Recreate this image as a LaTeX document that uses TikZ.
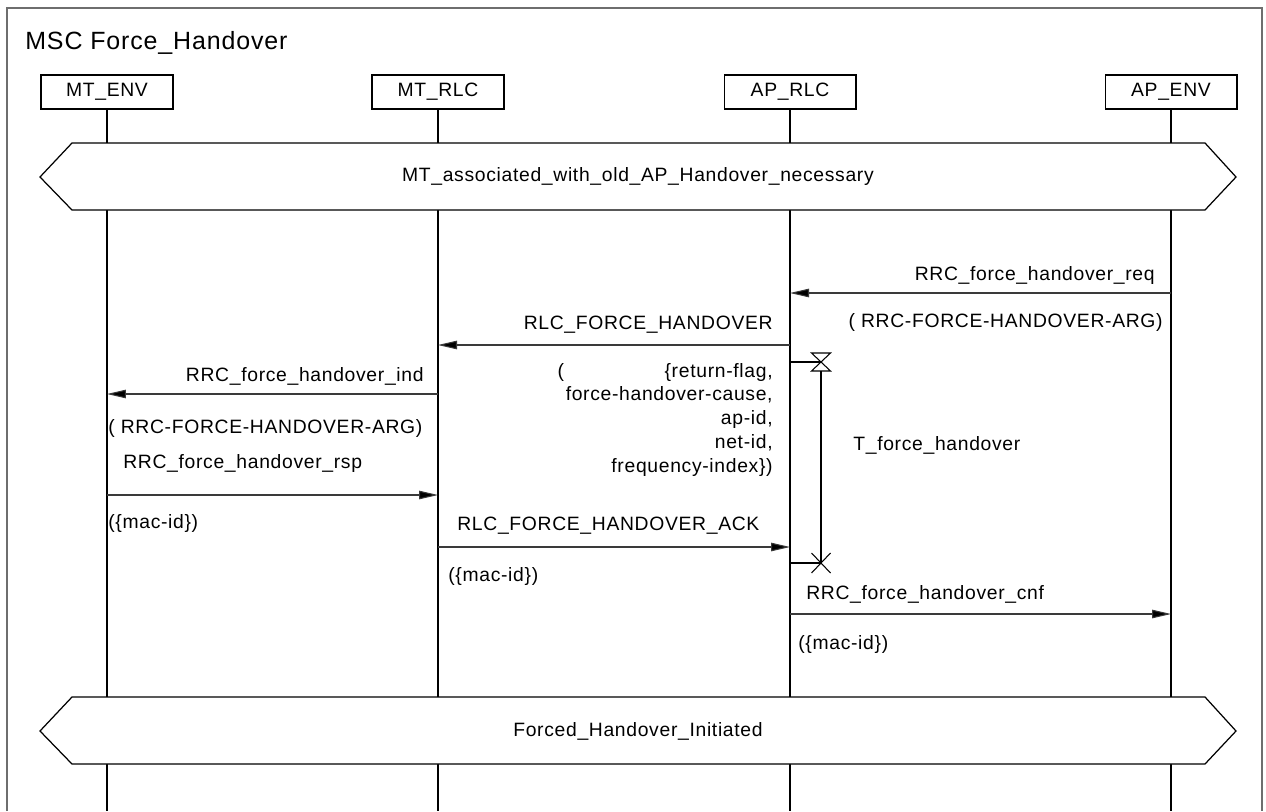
\documentclass[tikz,border=0pt]{standalone}
\usepackage{fontspec}
\setmainfont[LetterSpace=3.5]{Liberation Sans}
\usetikzlibrary{arrows.meta}
\usepackage{xcolor}
\definecolor{cInk}{HTML}{000000}
\definecolor{cMsg}{HTML}{3A3A3A}
\definecolor{cFrame}{HTML}{6E6E6E}
\tikzset{
  instbox/.style={
    draw=cInk, line width=0.6pt, inner sep=0pt,
    minimum width=2.64cm, minimum height=0.68cm,
  },
  lifeline/.style={draw=cInk, line width=0.6pt},
  condshape/.style={draw=cInk, fill=white, line width=0.7pt},
  msgarw/.style={-{Triangle[length=0.38cm, width=0.17cm, fill=cInk]}, line width=0.6pt, draw=cMsg},
  timerline/.style={draw=cInk, line width=0.6pt},
  frameline/.style={draw=cFrame, line width=1.1pt},
  lbl/.style={inner sep=0pt, text=cInk},
}

\begin{document}
\begin{tikzpicture}[x=0.02cm, y=-0.02cm, font=\fontsize{11}{13.6}\selectfont]
  \useasboundingbox (0,0) rectangle (1266,811);

  % Frame and title
  \draw[frameline] (7,811) -- (7,8) -- (1262,8) -- (1262,811);
  \node[lbl, anchor=base west, font=\fontsize{14.2}{17}\selectfont] (title) at (25,50)
    {MSC Force\_Handover};

  % Instances
  \node[instbox] (mtenv) at (107,92) {MT\_ENV};
  \node[instbox] (mtrlc) at (438,92) {MT\_RLC};
  \node[instbox] (aprlc) at (790,92) {AP\_RLC};
  \node[instbox] (apenv) at (1171,92) {AP\_ENV};

  % Lifelines
  \foreach \inst in {mtenv, mtrlc, aprlc, apenv}
    \draw[lifeline] (\inst.south) -- (\inst |- 0,811);

  % Condition (top)
  \draw[condshape] (40,177) -- (72,143) -- (1205,143) -- (1236,177)
    -- (1205,210) -- (72,210) -- cycle;
  \node[lbl] (precond) at (638,177) {MT\_associated\_with\_old\_AP\_Handover\_necessary};

  % RRC_force_handover_req
  \draw[msgarw] (apenv |- 0,293) -- (aprlc |- 0,293);
  \node[lbl, anchor=base east] (reqname) at (1155,280) {RRC\_force\_handover\_req};
  \node[lbl, anchor=base east] (reqarg) at (1163,327) {( RRC-FORCE-HANDOVER-ARG)};

  % RLC_FORCE_HANDOVER
  \draw[msgarw] (aprlc |- 0,345) -- (mtrlc |- 0,345);
  \node[lbl, anchor=base east] (fhname) at (773,329) {RLC\_FORCE\_HANDOVER};
  \node[lbl, anchor=base east, text width=4.3cm, align=right] (fharg) at (773,377)
    {(\hskip 0pt plus 1filll\{return-flag,\\
     force-handover-cause,\\
     ap-id,\\
     net-id,\\
     frequency-index\})};

  % Timer T_force_handover
  \coordinate (tset) at (821,362);
  \coordinate (texp) at (821,563);
  \draw[timerline] (aprlc |- tset) -- (tset);
  \draw[timerline] ([shift={(-9.5,-9)}]tset) -- ([shift={(9.5,-9)}]tset)
    -- ([shift={(-9.5,9)}]tset) -- ([shift={(9.5,9)}]tset) -- cycle;
  \draw[timerline] ([shift={(0,9)}]tset) -- (texp);
  \draw[timerline] (aprlc |- texp) -- (texp);
  \draw[timerline] ([shift={(-9.5,-10)}]texp) -- ([shift={(9.5,10)}]texp);
  \draw[timerline] ([shift={(9.5,-10)}]texp) -- ([shift={(-9.5,10)}]texp);
  \node[lbl, anchor=base west] (tlabel) at (853,450) {T\_force\_handover};

  % RRC_force_handover_ind
  \draw[msgarw] (mtrlc |- 0,394) -- (mtenv |- 0,394);
  \node[lbl, anchor=base east] (indname) at (424,381) {RRC\_force\_handover\_ind};
  \node[lbl, anchor=base west] (indarg) at (108,433) {( RRC-FORCE-HANDOVER-ARG)};

  % RRC_force_handover_rsp
  \draw[msgarw] (mtenv |- 0,495) -- (mtrlc |- 0,495);
  \node[lbl, anchor=base west] (rspname) at (123,468) {RRC\_force\_handover\_rsp};
  \node[lbl, anchor=base west] (rsparg) at (108,528) {(\{mac-id\})};

  % RLC_FORCE_HANDOVER_ACK
  \draw[msgarw] (mtrlc |- 0,547) -- (aprlc |- 0,547);
  \node[lbl, anchor=base west] (ackname) at (457,530) {RLC\_FORCE\_HANDOVER\_ACK};
  \node[lbl, anchor=base west] (ackarg) at (448,581) {(\{mac-id\})};

  % RRC_force_handover_cnf
  \draw[msgarw] (aprlc |- 0,614) -- (apenv |- 0,614);
  \node[lbl, anchor=base west] (cnfname) at (806,599) {RRC\_force\_handover\_cnf};
  \node[lbl, anchor=base west] (cnfarg) at (798,649) {(\{mac-id\})};

  % Condition (bottom)
  \draw[condshape] (40,731) -- (72,697) -- (1205,697) -- (1236,731)
    -- (1205,764) -- (72,764) -- cycle;
  \node[lbl] (postcond) at (638,731) {Forced\_Handover\_Initiated};

\end{tikzpicture}
\end{document}
